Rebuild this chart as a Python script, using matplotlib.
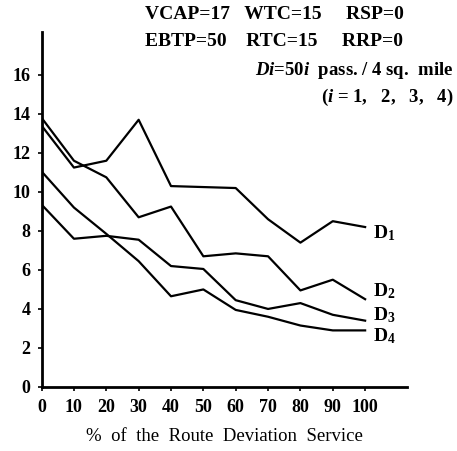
import matplotlib
matplotlib.use("Agg")
import matplotlib.pyplot as plt

plt.rcParams['font.family'] = ['Liberation Serif', 'DejaVu Serif']
plt.rcParams['font.weight'] = 'bold'
plt.rcParams['mathtext.fontset'] = 'custom'
plt.rcParams['mathtext.rm'] = 'Liberation Serif:bold'
plt.rcParams['mathtext.it'] = 'Liberation Serif:italic:bold'
plt.rcParams['mathtext.bf'] = 'Liberation Serif:bold'

# % of route deviation service
pct = [0, 10, 20, 30, 40, 50, 60, 70, 80, 90, 100]

d1 = [13.4, 11.25, 11.6, 13.7, 10.3, 10.25, 10.2, 8.6, 7.4, 8.5, 8.2]
d2 = [13.8, 11.6, 10.75, 8.7, 9.25, 6.7, 6.85, 6.7, 4.95, 5.5, 4.5]
d3 = [9.35, 7.6, 7.75, 7.55, 6.2, 6.05, 4.45, 4.0, 4.3, 3.7, 3.4]
d4 = [11.05, 9.2, 7.85, 6.45, 4.65, 5.0, 3.95, 3.6, 3.15, 2.9, 2.9]

series = [d1, d2, d3, d4]
labels = ['D$_1$', 'D$_2$', 'D$_3$', 'D$_4$']
label_y = [7.9, 4.9, 3.7, 2.6]

x_ticks = [0, 10, 20, 30, 40, 50, 60, 70, 80, 90, 100]
y_ticks = [0, 2, 4, 6, 8, 10, 12, 14, 16]

fig = plt.figure(figsize=(4.57, 4.51), dpi=100)
ax = fig.add_axes([0.091, 0.142, 0.80, 0.787])

for ys in series:
    ax.plot(pct, ys, color='black', linewidth=1.6)

for lab, ly in zip(labels, label_y):
    ax.text(102.5, ly, lab, fontsize=14, ha='left', va='center')

ax.set_xlim(0, 113)
ax.set_ylim(0, 18.2)
ax.set_xticks(x_ticks)
ax.set_yticks(y_ticks)
ax.tick_params(axis='both', direction='out', length=3, width=1.2, labelsize=13)
ax.tick_params(axis='x', pad=6)
ax.tick_params(axis='y', pad=5)
ax.spines['top'].set_visible(False)
ax.spines['right'].set_visible(False)
ax.spines['left'].set_linewidth(2)
ax.spines['bottom'].set_linewidth(2)

ax.set_xlabel('%  of  the  Route  Deviation  Service', fontsize=13.5, labelpad=8)

fig.text(0.318, 0.967, 'VCAP=17   WTC=15     RSP=0', fontsize=14, va='center')
fig.text(0.318, 0.907, 'EBTP=50    RTC=15     RRP=0', fontsize=14, va='center')
fig.text(0.993, 0.843, '$Di$=50$i$  pass. / 4 sq.  mile', fontsize=13.5, va='center', ha='right')
fig.text(0.993, 0.785, '($i$ = 1,   2,   3,   4)', fontsize=13.5, va='center', ha='right')

fig.savefig('out.png', dpi=100, facecolor='white')
